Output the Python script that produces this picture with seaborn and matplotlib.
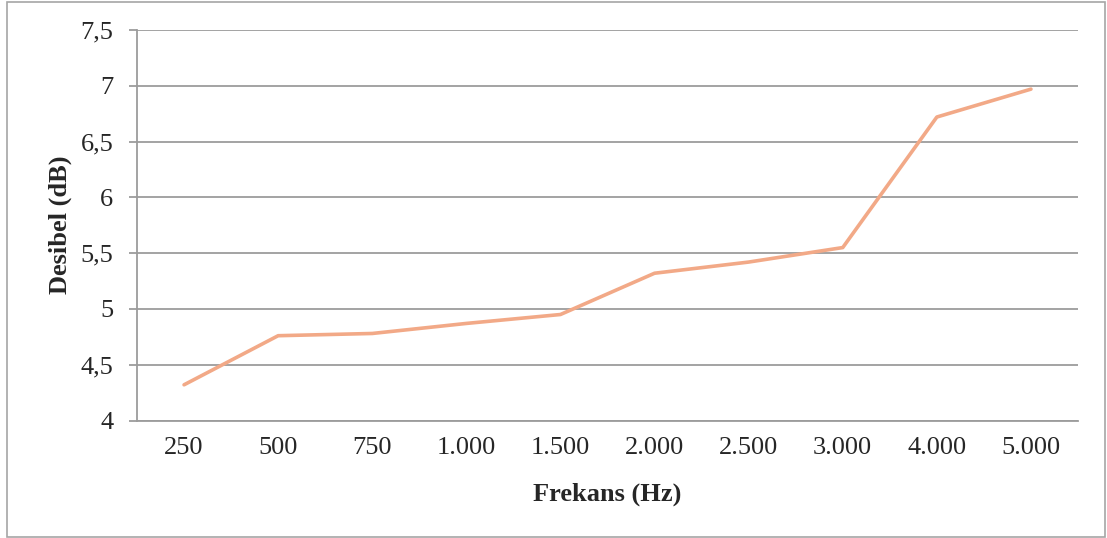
import matplotlib
matplotlib.use("Agg")
import matplotlib.pyplot as plt
import matplotlib.ticker as mticker
from matplotlib.patches import Rectangle
import pandas as pd
import seaborn as sns

frekans = ["250", "500", "750", "1.000", "1.500", "2.000", "2.500", "3.000", "4.000", "5.000"]
desibel = [4.32, 4.76, 4.78, 4.87, 4.95, 5.32, 5.42, 5.55, 6.72, 6.97]

df = pd.DataFrame({"Frekans": frekans, "Desibel": desibel})

sns.set_style("white")
plt.rcParams["font.family"] = ["Liberation Serif", "DejaVu Serif"]

fig = plt.figure(figsize=(11.07, 5.38), dpi=100)
ax = fig.add_axes([137 / 1107, 1 - 420.5 / 538, (1078 - 137) / 1107, (420.5 - 30) / 538])

sns.lineplot(data=df, x="Frekans", y="Desibel", ax=ax, color="#F2A987", linewidth=2.6,
             sort=False)

ax.set_xlim(-0.5, len(frekans) - 0.5)
ax.set_ylim(4, 7.5)
ax.yaxis.set_major_locator(mticker.MultipleLocator(0.5))
ax.yaxis.set_major_formatter(mticker.FuncFormatter(lambda v, p: f"{v:g}".replace(".", ",")))

ax.grid(axis="y", color="#9C9C9C", linewidth=1.3)
ax.set_axisbelow(True)
for s in ["top", "right"]:
    ax.spines[s].set_visible(False)
for s in ["left", "bottom"]:
    ax.spines[s].set_color("#9C9C9C")
    ax.spines[s].set_linewidth(1.3)

ax.tick_params(axis="y", length=6, width=1.3, color="#9C9C9C", pad=11, labelsize=19, left=True)
ax.tick_params(axis="x", length=0, pad=12, labelsize=19)

ax.set_xlabel("Frekans (Hz)", fontsize=19, fontweight="bold", labelpad=17)
ax.set_ylabel("Desibel (dB)", fontsize=19, fontweight="bold", labelpad=6)

fig.patches.append(Rectangle((7 / 1107, 1 / 538), 1098 / 1107, 535 / 538, transform=fig.transFigure,
                             fill=False, edgecolor="#A6A6A6", linewidth=1.2))

fig.savefig("out.png", dpi=100)
